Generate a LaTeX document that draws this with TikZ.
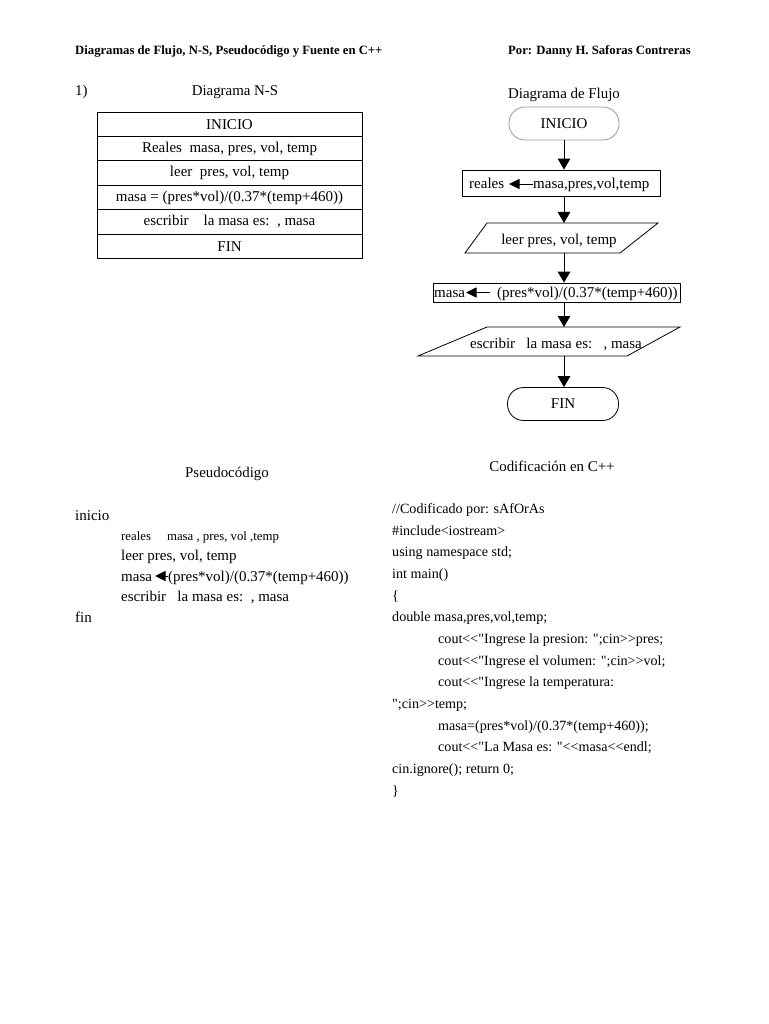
\documentclass[tikz,border=0pt]{standalone}
\usepackage{fontspec}
\setmainfont{Liberation Serif}
\newfontfamily\codefont{Liberation Serif}
\usetikzlibrary{arrows.meta,positioning}
\begin{document}
\begin{tikzpicture}[x=1pt,y=-1pt,
  ttl/.style={font=\fontsize{14.9}{17}\selectfont, inner sep=0pt},
  txt/.style={font=\fontsize{15}{17}\selectfont, inner sep=0pt},
  code/.style={font=\codefont\fontsize{14.1}{17}\selectfont, inner sep=0pt},
  small/.style={font=\fontsize{12.8}{14}\selectfont, inner sep=0pt},
  hdr/.style={font=\fontsize{12.7}{14}\selectfont\bfseries, inner sep=0pt},
  nsrow/.style={draw, line width=0.8pt, minimum width=265pt, minimum height=24.4pt, inner sep=0pt, outer sep=0pt, font=\fontsize{15}{17}\selectfont},
  term/.style={draw, line width=0.8pt, rounded corners=16pt, minimum width=110pt, minimum height=33pt, inner sep=0pt, font=\fontsize{15}{17}\selectfont},
  box/.style={draw, line width=0.8pt, inner sep=0pt},
  flow/.style={line width=0.9pt, -{Triangle[width=12.5pt,length=11pt]}},
  inarr/.style={line width=0.9pt, -{Triangle[width=10pt,length=10.5pt]}},
  shp/.style={line width=0.8pt}
]
\useasboundingbox[fill=white] (0,0) rectangle (768,1024);

% header
\node[hdr, anchor=base west] (h1) at (75,55) {Diagramas de Flujo, N-S, Pseudocódigo y Fuente en C++};
\node[hdr, anchor=base west] (h2) at (508,55) {Por: Danny H. Saforas Contreras};

% N-S
\node[ttl, anchor=base west] (num) at (75,96) {1)};
\node[ttl, anchor=base] (nst) at (235,96) {Diagrama N-S};
\node[nsrow] (ns1) at (229.5,124.2) {INICIO};
\node[nsrow] (ns2) at (229.5,148.6) {Reales\ \ masa, pres, vol, temp};
\node[nsrow] (ns3) at (229.5,173) {leer\ \ pres, vol, temp};
\node[nsrow] (ns4) at (229.5,197.4) {masa = (pres*vol)/(0.37*(temp+460))};
\node[nsrow] (ns5) at (229.5,221.8) {escribir\ \ \ \ la masa es:\ \ , masa};
\node[nsrow] (ns6) at (229.5,246.2) {FIN};

% Flow diagram
\node[ttl, anchor=base] (flt) at (564,99) {Diagrama de Flujo};
\node[term, draw=black!40] (ini) at (564,123.5) {INICIO};

\node[box, minimum width=198pt, minimum height=26pt] (rb) at (561,183) {};
\node[txt, anchor=base west] (r1) at (469,189) {reales};
\node[txt, anchor=base west] (r2) at (533,189) {masa,pres,vol,temp};
\draw[inarr] (r2.west |- 0,184) -- (509,184);

\coordinate (lt) at (564,223);
\coordinate (lb) at (564,253);
\draw[shp] (487,223) -- (658,223) -- (620,253) -- (465,253) -- cycle;
\node[txt, anchor=base] (lr) at (559,244) {leer pres, vol, temp};

\node[box, minimum width=247pt, minimum height=19pt] (mb) at (557,292.5) {};
\node[txt, anchor=base west] (m1) at (434,297.5) {masa};
\node[txt, anchor=base west] (m2) at (497,297.5) {(pres*vol)/(0.37*(temp+460))};
\draw[inarr] (490,292.5) -- (466,292.5);

\coordinate (et) at (564,327);
\coordinate (eb) at (564,356);
\draw[shp] (487,327) -- (680,327) -- (627,356) -- (418,356) -- cycle;
\node[txt, anchor=base] (es) at (556,348) {escribir\ \ \ la masa es:\ \ \ , masa};

\node[term, minimum width=111pt] (fin) at (563,404) {FIN};

\draw[flow] (ini.south -| 564,0) -- (rb.north -| 564,0);
\draw[flow] (rb.south -| 564,0) -- (lt);
\draw[flow] (lb) -- (mb.north -| 564,0);
\draw[flow] (mb.south -| 564,0) -- (et);
\draw[flow] (eb) -- (fin.north -| 564,0);

% Pseudocode
\node[ttl, anchor=base] (pst) at (227,477) {Pseudocódigo};
\node[txt, anchor=base west] (p1) at (75,520) {inicio};
\node[small, anchor=base west] (p2) at (121,540) {reales\ \ \ \ \ masa , pres, vol ,temp};
\node[txt, anchor=base west] (p3) at (121,560.5) {leer pres, vol, temp};
\node[txt, anchor=base west] (p4a) at (121,581) {masa};
\node[txt, anchor=base west] (p4b) at (168,581) {(pres*vol)/(0.37*(temp+460))};
\draw[inarr] (p4b.west |- 0,576) -- (155,576);
\node[txt, anchor=base west] (p5) at (121,601.5) {escribir\ \ \ la masa es:\ \ , masa};
\node[txt, anchor=base west] (p6) at (75,622) {fin};

% C++ code
\node[ttl, anchor=base] (cct) at (552,471) {Codificación en C++};
\node[code, anchor=base west] (c1) at (392,513) {//Codificado por: sAfOrAs};
\node[code, anchor=base west] (c2) at (392,535) {\#include<iostream>};
\node[code, anchor=base west] (c3) at (392,556.5) {using namespace std;};
\node[code, anchor=base west] (c4) at (392,578) {int main()};
\node[code, anchor=base west] (c5) at (392,600) {\{};
\node[code, anchor=base west] (c6) at (392,621.5) {double masa,pres,vol,temp;};
\node[code, anchor=base west] (c7) at (438,643) {cout<<"Ingrese la presion: ";cin>>pres;};
\node[code, anchor=base west] (c8) at (438,665) {cout<<"Ingrese el volumen: ";cin>>vol;};
\node[code, anchor=base west] (c9) at (438,686.5) {cout<<"Ingrese la temperatura:};
\node[code, anchor=base west] (c10) at (392,708) {";cin>>temp;};
\node[code, anchor=base west] (c11) at (438,730) {masa=(pres*vol)/(0.37*(temp+460));};
\node[code, anchor=base west] (c12) at (438,751.5) {cout<<"La Masa es: "<<masa<<endl;};
\node[code, anchor=base west] (c13) at (392,773) {cin.ignore(); return 0;};
\node[code, anchor=base west] (c14) at (392,795) {\}};
\end{tikzpicture}
\end{document}
